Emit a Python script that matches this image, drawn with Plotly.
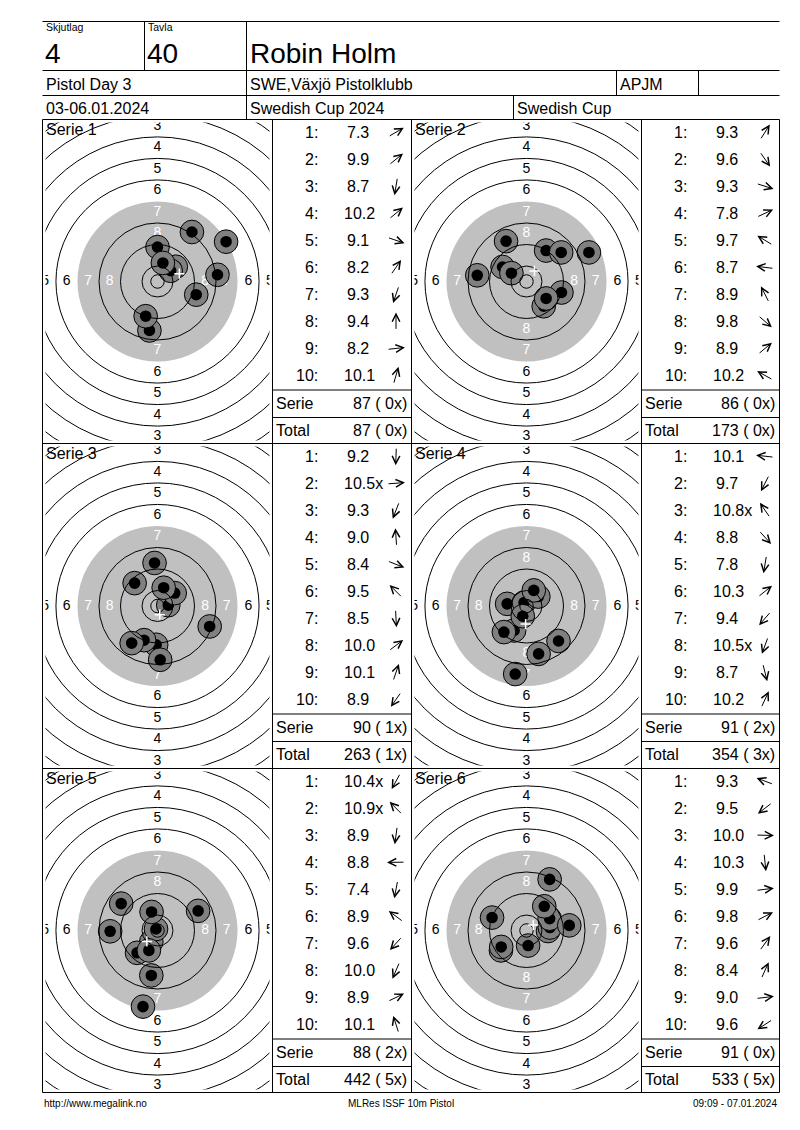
import math
import plotly.graph_objects as go

# =========================
# Data
# =========================
skjutlag = "4"
tavla = "40"
skytt = "Robin Holm"
tavling = "Pistol Day 3"
klubb = "SWE,Växjö Pistolklubb"
klass = "APJM"
datum = "03-06.01.2024"
cup = "Swedish Cup 2024"
cup_kort = "Swedish Cup"
footer_left = "http://www.megalink.no"
footer_mid = "MLRes ISSF 10m Pistol"
footer_right = "09:09 - 07.01.2024"

serier = ["Serie 1", "Serie 2", "Serie 3", "Serie 4", "Serie 5", "Serie 6"]

poang = [
    [7.3, 9.9, 8.7, 10.2, 9.1, 8.2, 9.3, 9.4, 8.2, 10.1],
    [9.3, 9.6, 9.3, 7.8, 9.7, 8.7, 8.9, 9.8, 8.9, 10.2],
    [9.2, 10.5, 9.3, 9.0, 8.4, 9.5, 8.5, 10.0, 10.1, 8.9],
    [10.1, 9.7, 10.8, 8.8, 7.8, 10.3, 9.4, 10.5, 8.7, 10.2],
    [10.4, 10.9, 8.9, 8.8, 7.4, 8.9, 9.6, 10.0, 8.9, 10.1],
    [9.3, 9.5, 10.0, 10.3, 9.9, 9.8, 9.6, 8.4, 9.0, 9.6],
]
inre_tia = [
    [0, 0, 0, 0, 0, 0, 0, 0, 0, 0],
    [0, 0, 0, 0, 0, 0, 0, 0, 0, 0],
    [0, 1, 0, 0, 0, 0, 0, 0, 0, 0],
    [0, 0, 1, 0, 0, 0, 0, 1, 0, 0],
    [1, 1, 0, 0, 0, 0, 0, 0, 0, 0],
    [0, 0, 0, 0, 0, 0, 0, 0, 0, 0],
]

# träffpunkter i mm från tavlans centrum (y uppåt)
skott_x = [
    [25.5, 6.8, -3.0, 4.9, 14.4, 12.8, -4.4, 0.0, 22.3, 2.0],
    [7.3, 6.4, 13.0, 23.2, -8.9, -18.3, -7.6, 7.3, 12.9, -5.6],
    [-0.5, 4.0, -5.0, -1.1, 19.4, -8.5, 1.0, 6.4, 2.3, -9.6],
    [-7.2, -4.6, -0.9, 11.9, -4.2, 4.4, -8.4, -1.4, 4.5, 2.7],
    [-2.3, -0.55, -2.3, -17.6, -5.4, -13.5, -7.6, -3.2, 15.1, -2.2],
    [-12.8, -9.5, 8.0, 0.6, 8.7, 8.6, 6.6, 8.6, 15.9, -9.4],
]
skott_y = [
    [14.8, 5.5, -18.2, 4.0, -4.9, 18.4, -12.9, 12.8, 2.5, 6.9],
    [11.5, -9.2, -4.1, 10.8, 5.4, 2.3, 15.0, -6.3, 10.8, 3.1],
    [-14.4, 0.3, -12.7, 16.0, -7.6, 8.5, -20.0, 4.8, 6.8, -13.8],
    [0.8, -9.1, 1.3, -13.0, -25.3, 3.5, -9.7, -3.8, -17.8, 5.8],
    [-4.2, 0.55, -16.7, -0.3, -28.3, 10.0, -8.3, -7.4, 7.3, 6.9],
    [4.8, -7.4, -0.2, -5.6, 1.1, 4.4, 9.0, 19.0, 1.9, -6.1],
]

# ISSF 10m pistol tavla (radier i mm)
RING_RADIER = [2.5, 5.75, 13.75, 21.75, 37.75, 45.75, 53.75, 61.75, 69.75, 77.75]
SVART_RADIE = 29.75
ETIKETT_VERT = [3, 4, 5, 6, 7, 8]
ETIKETT_HOR = [5, 6, 7, 8]

# =========================
# Sidlayout (px i sidans koordinater)
# =========================
OFS = 8                      # body-marginal i html-sidan
W, H = 800 - OFS, 1130 - OFS
FONT = "Liberation Sans, Arial, sans-serif"
PXMM = 2.69
INSET = 3                    # tavlan ritas lite innanför rutan
XS = [42.5, 272.5, 411.5, 641.5, 779.5]
YS = [119.5, 443.5, 768.5, 1092.5]


def fx(px):
    return (px - OFS) / W


def fy(py):
    return 1 - (py - OFS) / H


def ring_r(n):
    return 5.75 + 8 * (10 - n)


fig = go.Figure()
shapes = []
annots = []


def linje(x0, y0, x1, y1):
    shapes.append(dict(type="line", xref="paper", yref="paper",
                       x0=fx(x0), y0=fy(y0), x1=fx(x1), y1=fy(y1),
                       line=dict(color="black", width=1)))


def text(t, x, y, size, xanchor="left", color="black"):
    annots.append(dict(text=t, x=fx(x), y=fy(y), xref="paper", yref="paper",
                       xanchor=xanchor, yanchor="middle", showarrow=False,
                       font=dict(family=FONT, size=size, color=color)))


# ---- huvud ----
linje(42.5, 21.5, 779.5, 21.5)
linje(42.5, 70.5, 779.5, 70.5)
linje(42.5, 95.5, 779.5, 95.5)
linje(42.5, 119.5, 779.5, 119.5)
linje(144.5, 21.5, 144.5, 70.5)
linje(246.5, 21.5, 246.5, 119.5)
linje(616.5, 70.5, 616.5, 95.5)
linje(698.5, 70.5, 698.5, 95.5)
linje(513.5, 95.5, 513.5, 119.5)

text("Skjutlag", 44, 27.5, 10.5)
text("Tavla", 146, 27.5, 10.5)
text(skjutlag, 43, 53, 28)
text(tavla, 145, 53, 28)
text(skytt, 248, 53, 28)
text(tavling, 44, 84.5, 16)
text(klubb, 248, 84.5, 16)
text(klass, 618, 84.5, 16)
text(datum, 44, 108.5, 16)
text(cup, 248, 108.5, 16)
text(cup_kort, 515, 108.5, 16)

# ---- rutnät ----
for x in XS:
    linje(x, 119.5, x, 1092.5)
for y in YS[1:]:
    linje(42.5, y, 779.5, y)

total = 0
total_x = 0
L = 18
for k in range(6):
    r, c = k // 2, k % 2
    top = YS[r]
    tx0, tx1 = XS[2 * c], XS[2 * c + 1]
    bx0, bx1 = XS[2 * c + 1], XS[2 * c + 2]
    ax_id = "" if k == 0 else str(k + 1)
    xa, ya = "x" + ax_id, "y" + ax_id

    hw = ((tx1 - tx0) / 2 - INSET) / PXMM
    hh = ((YS[r + 1] - top) / 2 - INSET) / PXMM
    fig.update_layout(**{
        "xaxis" + ax_id: dict(domain=[fx(tx0 + INSET), fx(tx1 - INSET)], range=[-hw, hw],
                              visible=False, fixedrange=True, anchor=ya),
        "yaxis" + ax_id: dict(domain=[fy(YS[r + 1] - INSET), fy(top + INSET)], range=[-hh, hh],
                              visible=False, fixedrange=True, anchor=xa),
    })

    # svart (grå) spegel
    shapes.append(dict(type="circle", xref=xa, yref=ya, layer="below",
                       x0=-SVART_RADIE, x1=SVART_RADIE, y0=-SVART_RADIE, y1=SVART_RADIE,
                       fillcolor="#c0c0c0", line=dict(width=0)))

    # ringsiffror
    lx, ly, lt, lc = [], [], [], []
    for n in ETIKETT_VERT:
        for sgn in (1, -1):
            lx.append(0)
            ly.append(sgn * (ring_r(n) - 4))
            lt.append(str(n))
            lc.append("white" if n >= 7 else "black")
    for n in ETIKETT_HOR:
        for sgn in (1, -1):
            lx.append(sgn * (ring_r(n) - 4))
            ly.append(0)
            lt.append(str(n))
            lc.append("white" if n >= 7 else "black")
    fig.add_trace(go.Scatter(x=lx, y=ly, text=lt, mode="text", xaxis=xa, yaxis=ya,
                             textfont=dict(family=FONT, size=14, color=lc),
                             cliponaxis=True, hoverinfo="skip", showlegend=False))

    # träffar
    for sx, sy in zip(skott_x[k], skott_y[k]):
        shapes.append(dict(type="circle", xref=xa, yref=ya, layer="above",
                           x0=sx - 4.4, x1=sx + 4.4, y0=sy - 4.4, y1=sy + 4.4,
                           fillcolor="#808080", line=dict(color="black", width=1)))
        shapes.append(dict(type="circle", xref=xa, yref=ya, layer="above",
                           x0=sx - 2.15, x1=sx + 2.15, y0=sy - 2.15, y1=sy + 2.15,
                           fillcolor="black", line=dict(width=0)))

    # ringar
    for rr in RING_RADIER:
        shapes.append(dict(type="circle", xref=xa, yref=ya, layer="above",
                           x0=-rr, x1=rr, y0=-rr, y1=rr,
                           line=dict(color="black", width=1)))

    # medelpunkt
    mx = sum(skott_x[k]) / len(skott_x[k])
    my = sum(skott_y[k]) / len(skott_y[k])
    for dx, dy in ((1.9, 0), (0, 1.9)):
        shapes.append(dict(type="line", xref=xa, yref=ya, layer="above",
                           x0=mx - dx, x1=mx + dx, y0=my - dy, y1=my + dy,
                           line=dict(color="white", width=1.5)))

    text(serier[k], tx0 + 1, top + 10, 16)

    # tabell
    serie = 0
    serie_x = 0
    for i, s in enumerate(poang[k]):
        y = top + 12.7 + i * 27.03
        text(f"{i + 1}:", bx0 + 47.5, y, 16, xanchor="right")
        val = f"{s:.1f}" + ("x" if inre_tia[k][i] else "")
        text(val, bx0 + 69 + (3.5 if s < 10 else 0), y, 16)
        serie += int(round(s * 10)) // 10
        serie_x += inre_tia[k][i]

        sx, sy = skott_x[k][i], skott_y[k][i]
        d = math.hypot(sx, sy)
        ux, uy = sx / d, sy / d
        cx = bx0 + 123.5
        annots.append(dict(text="", x=fx(cx + L / 2 * ux), y=fy(y - L / 2 * uy),
                           xref="paper", yref="paper", showarrow=True,
                           ax=-L * ux, ay=L * uy, arrowhead=5, arrowsize=1.5,
                           arrowwidth=1, arrowcolor="black"))
    total += serie
    total_x += serie_x

    linje(bx0, top + 270.5, bx1, top + 270.5)
    linje(bx0, top + 298, bx1, top + 298)
    text("Serie", bx0 + 1.5, top + 284, 16)
    text("Total", bx0 + 1.5, top + 311, 16)
    text(f"{serie} ( {serie_x}x)", bx1 - 3, top + 284, 16, xanchor="right")
    text(f"{total} ( {total_x}x)", bx1 - 3, top + 311, 16, xanchor="right")

# ---- sidfot ----
text(footer_left, 42, 1103, 10)
text(footer_mid, 401, 1103, 10, xanchor="center")
text(footer_right, 779, 1103, 10, xanchor="right")

fig.update_layout(
    width=W, height=H,
    margin=dict(l=0, r=0, t=0, b=0),
    paper_bgcolor="white", plot_bgcolor="white",
    showlegend=False,
    shapes=shapes, annotations=annots,
    font=dict(family=FONT),
)

fig.write_html("out.html")
